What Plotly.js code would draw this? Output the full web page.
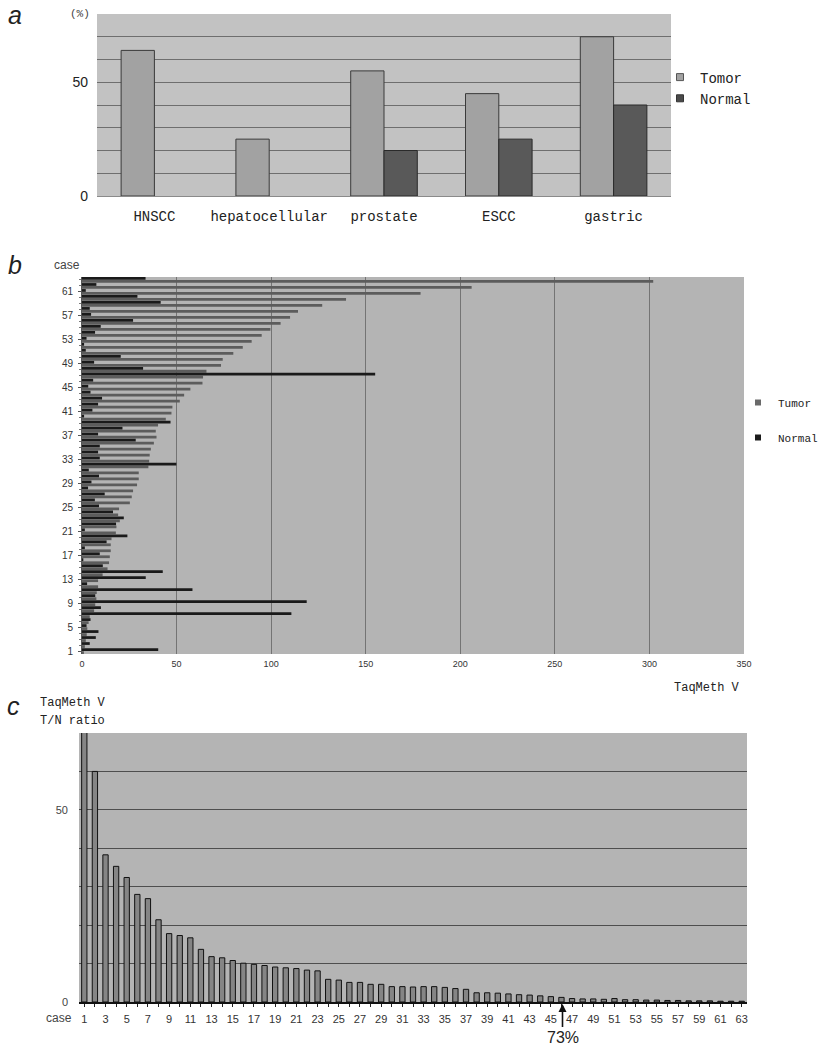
<!DOCTYPE html>
<html><head><meta charset="utf-8">
<script src="https://cdn.plot.ly/plotly-3.0.1.min.js"></script>
<style>html,body{margin:0;padding:0;background:#fff;overflow:hidden}#chart{width:823px;height:1050px}</style>
</head><body><div id="chart"></div>
<script>
// ---------- Panel a ----------
const cancerTypes = ['HNSCC', 'hepatocellular', 'prostate', 'ESCC', 'gastric'];
const tumorPct = [64, 25, 55, 45, 70];
const normalPct = [null, null, 20, 25, 40];
const pctTicks = [0, 50];

// ---------- Panel b ----------
const casesB = Array.from({length: 63}, (_, i) => i + 1);
const tumorTaq = [1.0, 1.5, 2.0, 2.5, 2.8, 3.5, 4.1, 6.4, 7.0, 7.6,
  7.8, 8.5, 8.5, 10.9, 13.5, 14.3, 14.7, 15.2, 15.2, 15.6,
  17.9, 18.2, 20.0, 19.1, 19.6, 25.3, 26.3, 27.0, 29.1, 30.0,
  30.0, 35.1, 35.5, 35.8, 36.4, 38.0, 39.4, 39.0, 40.2, 44.3,
  47.3, 47.8, 51.7, 54.0, 57.3, 63.7, 64.0, 65.8, 73.5, 74.4,
  80.0, 85.0, 89.7, 95.0, 99.6, 105.0, 110.0, 114.2, 127.0, 139.6,
  179.0, 206.0, 302.0];
const normalTaq = [40.3, 4.1, 7.3, 8.7, 2.4, 4.5, 110.7, 10.0, 118.8, 7.0,
  58.4, 2.7, 33.7, 42.7, 11.0, 0.7, 9.4, 1.5, 13.0, 24.0,
  1.5, 18.0, 22.1, 16.4, 9.0, 6.8, 12.0, 3.2, 5.0, 9.0,
  3.6, 49.9, 9.4, 8.5, 9.4, 28.4, 8.5, 21.4, 46.8, 1.1,
  5.5, 8.5, 10.6, 4.5, 3.3, 5.9, 155.0, 32.3, 6.4, 20.5,
  2.0, 1.1, 2.4, 6.9, 9.9, 27.0, 4.8, 4.1, 41.6, 29.3,
  2.0, 7.6, 33.6];
const caseTicksB = [1, 5, 9, 13, 17, 21, 25, 29, 33, 37, 41, 45, 49, 53, 57, 61];
const taqTicks = [0, 50, 100, 150, 200, 250, 300, 350];

// ---------- Panel c ----------
const casesC = Array.from({length: 63}, (_, i) => i + 1);
const ratioTN = [80, 60, 38.3, 35.3, 32.4, 28.0, 26.9, 21.4, 17.8, 17.3,
  16.7, 13.7, 11.8, 11.5, 10.8, 10.1, 9.8, 9.5, 9.1, 8.9,
  8.7, 8.3, 8.1, 5.9, 5.7, 5.1, 5.1, 4.6, 4.6, 4.0,
  4.0, 3.9, 4.0, 4.0, 3.8, 3.5, 3.3, 2.4, 2.4, 2.3,
  2.1, 1.9, 1.8, 1.6, 1.4, 1.2, 0.9, 0.8, 0.8, 0.7,
  0.9, 0.6, 0.6, 0.5, 0.5, 0.4, 0.4, 0.3, 0.3, 0.3,
  0.2, 0.2, 0.2];
const caseTicksC = [1,3,5,7,9,11,13,15,17,19,21,23,25,27,29,31,33,35,37,39,41,43,45,47,49,51,53,55,57,59,61,63];
const ratioTicks = [0, 50];

const W = 823, H = 1050;
const px = v => v / W;
const py = v => 1 - v / H;
const MONO = 'Liberation Mono, DejaVu Sans Mono, monospace';
const SANS = 'Liberation Sans, Arial, sans-serif';

const traces = [
  // panel a
  {type: 'bar', x: cancerTypes, y: tumorPct, xaxis: 'x', yaxis: 'y', name: 'Tomor',
   offset: -0.29, width: 0.29, marker: {color: '#a2a2a2', line: {color: '#3a3a3a', width: 1}},
   showlegend: false},
  {type: 'bar', x: cancerTypes, y: normalPct, xaxis: 'x', yaxis: 'y', name: 'Normal',
   offset: 0, width: 0.29, marker: {color: '#595959', line: {color: '#2a2a2a', width: 1}},
   showlegend: false},
  {type: 'scatter', mode: 'markers', x: [null], y: [null], xaxis: 'x', yaxis: 'y', name: 'Tomor',
   marker: {symbol: 'square', size: 7, color: '#a2a2a2', line: {color: '#555', width: 1}}, legend: 'legend'},
  {type: 'scatter', mode: 'markers', x: [null], y: [null], xaxis: 'x', yaxis: 'y', name: 'Normal',
   marker: {symbol: 'square', size: 7, color: '#4a4a4a', line: {color: '#333', width: 1}}, legend: 'legend'},
  // panel b
  {type: 'bar', orientation: 'h', x: tumorTaq, y: casesB, xaxis: 'x2', yaxis: 'y2', name: 'Tumor',
   offset: -0.48, width: 0.46, marker: {color: '#5c5c5c', line: {width: 0}}, showlegend: false},
  {type: 'bar', orientation: 'h', x: normalTaq, y: casesB, xaxis: 'x2', yaxis: 'y2', name: 'Normal',
   offset: 0.02, width: 0.46, marker: {color: '#1a1a1a', line: {width: 0}}, showlegend: false},
  {type: 'scatter', mode: 'markers', x: [null], y: [null], xaxis: 'x2', yaxis: 'y2', name: 'Tumor',
   marker: {symbol: 'square', size: 6, color: '#6a6a6a'}, legend: 'legend2', legendgroup: 'g1'},
  {type: 'scatter', mode: 'markers', x: [null], y: [null], xaxis: 'x2', yaxis: 'y2', name: 'Normal',
   marker: {symbol: 'square', size: 6, color: '#1c1c1c'}, legend: 'legend2', legendgroup: 'g2'},
  // panel c
  {type: 'bar', x: casesC, y: ratioTN, xaxis: 'x3', yaxis: 'y3', name: 'T/N ratio',
   width: 0.5, marker: {color: '#858585', line: {color: '#111', width: 1}}, showlegend: false}
];

function ann(text, x, y, font, xanchor) {
  return {text: text, x: px(x), y: py(y), xref: 'paper', yref: 'paper', showarrow: false,
          xanchor: xanchor || 'center', yanchor: 'middle', font: font};
}

const layout = {
  width: W, height: H, autosize: false,
  margin: {l: 0, r: 0, t: 0, b: 0, autoexpand: false},
  paper_bgcolor: '#ffffff',
  plot_bgcolor: '#b4b4b4',
  barmode: 'overlay',
  showlegend: true,
  // panel a axes
  xaxis: {domain: [px(97), px(671)], anchor: 'y', type: 'category', categoryarray: cancerTypes,
    showgrid: false, showline: true, linecolor: '#8a8a8a', linewidth: 1, ticks: '',
    tickfont: {family: MONO, size: 14, color: '#222'}, ticklabelstandoff: 7},
  yaxis: {domain: [py(196), py(14)], anchor: 'x', range: [0, 80], tickvals: pctTicks,
    showgrid: true, gridcolor: '#6e6e6e', gridwidth: 1, zeroline: false,
    minor: {dtick: 10, showgrid: true, gridcolor: '#6e6e6e', gridwidth: 1, ticks: ''},
    tickfont: {family: SANS, size: 14, color: '#222'}, ticklabelstandoff: 8, showline: false},
  // panel b axes
  xaxis2: {domain: [px(82), px(744)], anchor: 'y2', range: [0, 350], tickvals: taqTicks,
    showgrid: true, gridcolor: '#747474', gridwidth: 1, zeroline: false, showline: false,
    tickfont: {family: SANS, size: 9, color: '#333'}, ticklabelstandoff: 3},
  yaxis2: {domain: [py(654), py(277)], anchor: 'x2', range: [0.5, 63.5], tickvals: caseTicksB,
    showgrid: false, zeroline: false, showline: true, linecolor: '#555', linewidth: 1,
    ticks: 'outside', ticklen: 3, tickcolor: '#555',
    minor: {dtick: 1, ticks: 'outside', ticklen: 2, tickcolor: '#777'},
    tickfont: {family: SANS, size: 10, color: '#333'}, ticklabelstandoff: 3},
  // panel c axes
  xaxis3: {domain: [px(79), px(747)], anchor: 'y3', range: [0.5, 63.5], tickvals: caseTicksC,
    showgrid: false, zeroline: false, showline: true, linecolor: '#111', linewidth: 2,
    ticks: 'outside', ticklen: 3, tickcolor: '#222',
    minor: {dtick: 1, ticks: 'outside', ticklen: 3, tickcolor: '#222'},
    tickfont: {family: SANS, size: 11, color: '#333'}, ticklabelstandoff: 3},
  yaxis3: {domain: [py(1002), py(733)], anchor: 'x3', range: [0, 70], tickvals: ratioTicks,
    showgrid: true, gridcolor: '#4e4e4e', gridwidth: 1, zeroline: false,
    minor: {dtick: 10, showgrid: true, gridcolor: '#4e4e4e', gridwidth: 1, ticks: ''},
    tickfont: {family: SANS, size: 11, color: '#444'}, ticklabelstandoff: 10, showline: false},
  legend: {x: px(660), y: py(88), xanchor: 'left', yanchor: 'middle', bgcolor: 'rgba(0,0,0,0)',
    font: {family: MONO, size: 14, color: '#222'}, itemwidth: 30, tracegroupgap: 0},
  legend2: {x: px(738), y: py(420), xanchor: 'left', yanchor: 'middle', bgcolor: 'rgba(0,0,0,0)',
    font: {family: MONO, size: 11, color: '#222'}, itemwidth: 30, tracegroupgap: 16},
  shapes: [
    {type: 'rect', xref: 'x domain', yref: 'y domain', x0: 0, x1: 1, y0: 0, y1: 1,
     fillcolor: '#c2c2c2', line: {width: 0}, layer: 'below'}
  ],
  annotations: [
    ann('a', 15, 15, {family: SANS, size: 25, color: '#222', style: 'italic'}),
    ann('b', 15, 265, {family: SANS, size: 25, color: '#222', style: 'italic'}),
    ann('c', 13, 706, {family: SANS, size: 25, color: '#222', style: 'italic'}),
    ann('(%)', 80, 14, {family: MONO, size: 11, color: '#444'}),
    ann('case', 67, 265, {family: SANS, size: 12, color: '#444'}),
    ann('TaqMeth V', 742, 688, {family: MONO, size: 12, color: '#222'}, 'right'),
    ann('TaqMeth V', 38, 703, {family: MONO, size: 12, color: '#222'}, 'left'),
    ann('T/N ratio', 38, 721, {family: MONO, size: 12, color: '#222'}, 'left'),
    ann('case', 59, 1018, {family: SANS, size: 12, color: '#444'}),
    {text: '73%', x: 46.1, y: py(1004), xref: 'x3', yref: 'paper', showarrow: true,
     ax: 0, ay: 33, arrowhead: 2, arrowsize: 1, arrowwidth: 1.6, arrowcolor: '#111',
     font: {family: 'Liberation Sans Narrow, Liberation Sans, sans-serif', size: 16, color: '#222'}}
  ]
};

Plotly.newPlot('chart', traces, layout, {staticPlot: true, displayModeBar: false});
</script>
</body></html>
